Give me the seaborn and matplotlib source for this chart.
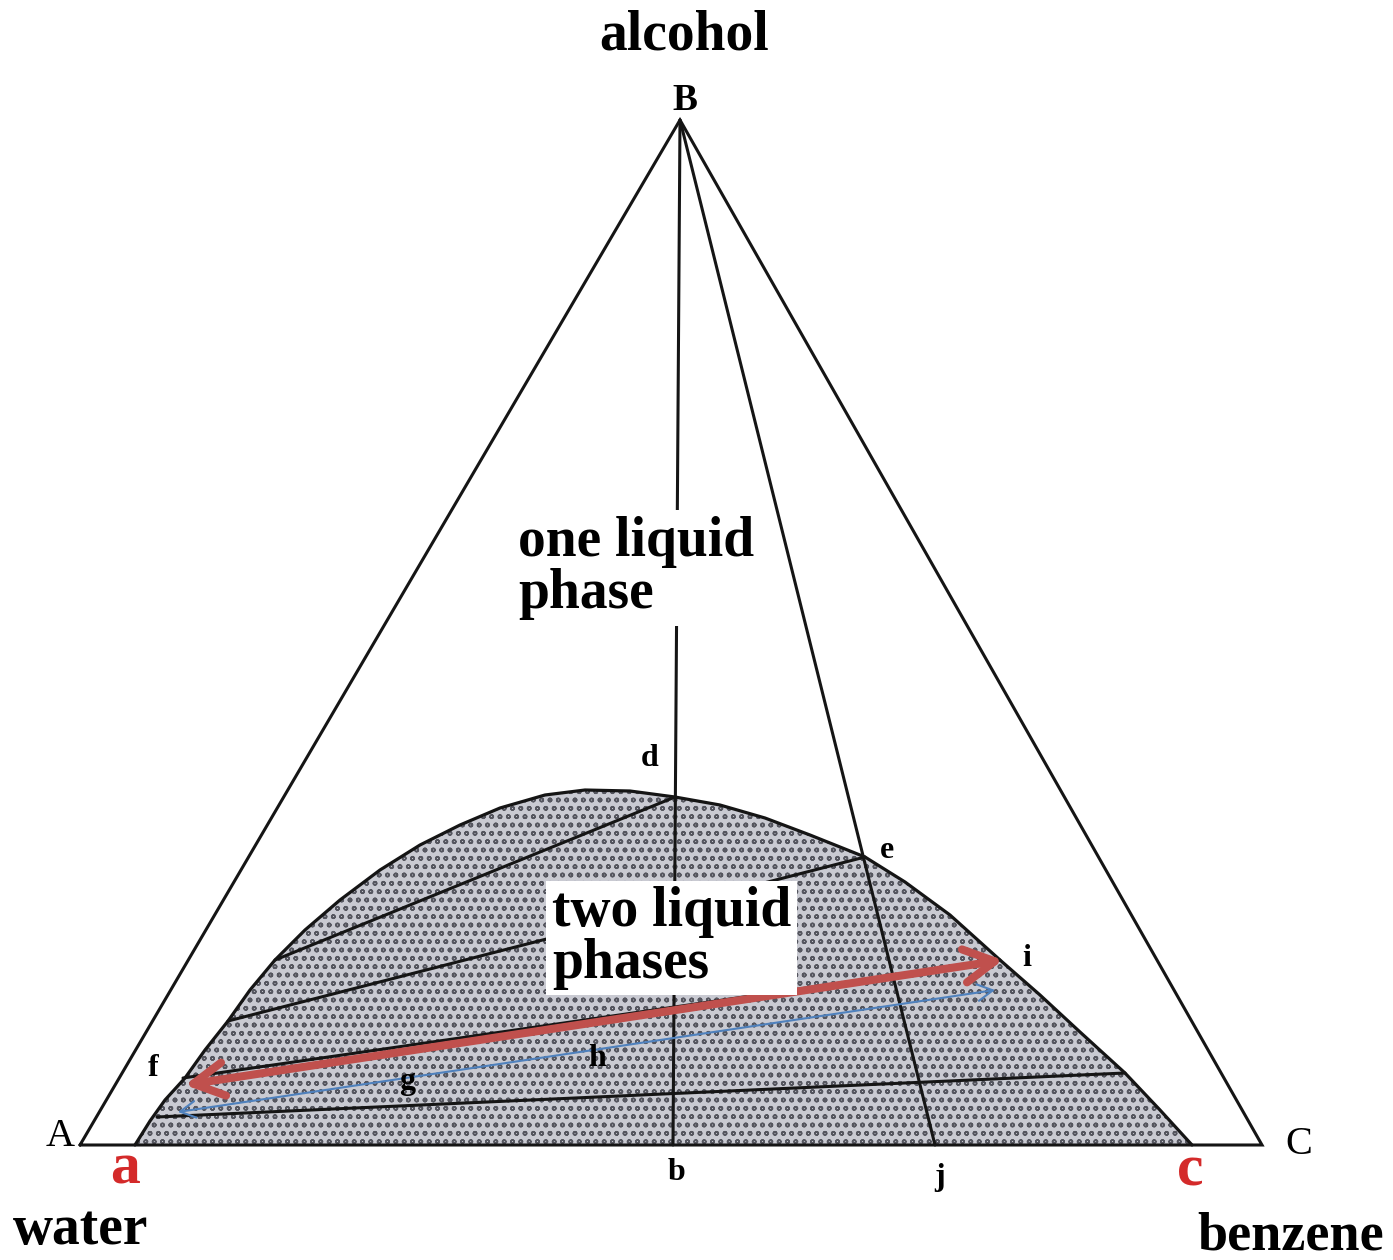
import matplotlib
matplotlib.use("Agg")
import matplotlib.pyplot as plt
import seaborn as sns
import pandas as pd
from matplotlib.patches import Polygon, FancyArrowPatch

# Triangle corners (drawing units, y grows downward)
corner_names = ["A", "B", "C"]
corner_x = [80, 680, 1262]
corner_y = [1145, 120, 1145]

# Binodal (solubility) curve from a to c
binodal_x = [135, 150, 165, 185, 205, 228, 250, 275, 305, 340, 380, 420, 460,
             500, 545, 585, 630, 675, 720, 765, 810, 865, 905, 950, 1000, 1040,
             1080, 1125, 1160, 1192]
binodal_y = [1145, 1121, 1100, 1078, 1050, 1021, 990, 960, 930, 900, 870, 845,
             825, 808, 795, 790, 791, 797, 805, 818, 835, 857, 882, 915, 960,
             995, 1032, 1073, 1110, 1145]

# Tie lines (left end, right end)
tie_x0 = [157, 183, 228, 275]
tie_y0 = [1117, 1078, 1021, 960]
tie_x1 = [1125, 1000, 865, 675]
tie_y1 = [1073, 960, 857, 797]

# Lines from the alcohol corner B to the base points b and j
ray_x1 = [673, 935]
ray_y1 = [1145, 1145]

# Double-headed arrows: red (f -> i) and blue (lower copy)
red_arrow = [(185, 1085), (1003, 960)]
blue_arrow = [(178, 1112), (995, 990)]

# Point labels
point_labels = ["d", "e", "i", "f", "g", "h", "b", "j"]
point_x = [650, 887, 1027, 153, 407, 597, 676, 940]
point_y = [758, 850, 958, 1068, 1082, 1058, 1172, 1178]

sns.set_theme(style="white")
plt.rcParams["font.family"] = ["Liberation Serif", "DejaVu Serif"]
plt.rcParams["text.color"] = "black"
plt.rcParams["hatch.color"] = "#55565f"
plt.rcParams["hatch.linewidth"] = 1.1

fig = plt.figure(figsize=(13.93, 12.6), dpi=100)
ax = fig.add_axes([0, 0, 1, 1])
ax.set_xlim(0, 1393)
ax.set_ylim(1260, 0)
ax.axis("off")

# Two-phase region fill (stippled grey)
poly_pts = list(zip(binodal_x, binodal_y))
region = Polygon(poly_pts, closed=True, facecolor="#c9cad2", edgecolor="#55565f",
                 hatch="oo", linewidth=0, zorder=1)
ax.add_patch(region)

ink = "#151515"

# Binodal curve
curve = pd.DataFrame({"x": binodal_x, "y": binodal_y})
sns.lineplot(data=curve, x="x", y="y", sort=False, color=ink, lw=2.3,
             ax=ax, zorder=3)

# Outer triangle
tri_x = corner_x + [corner_x[0]]
tri_y = corner_y + [corner_y[0]]
ax.plot(tri_x, tri_y, color=ink, lw=2.2, zorder=3, solid_joinstyle="miter")

# Rays from B
for xe, ye in zip(ray_x1, ray_y1):
    ax.plot([corner_x[1], xe], [corner_y[1], ye], color=ink, lw=2.2, zorder=3)

# Tie lines
for x0, y0, x1, y1 in zip(tie_x0, tie_y0, tie_x1, tie_y1):
    ax.plot([x0, x1], [y0, y1], color=ink, lw=2.2, zorder=3)

# Arrows
ax.add_patch(FancyArrowPatch(red_arrow[0], red_arrow[1],
                             arrowstyle="<->,head_length=22,head_width=12",
                             color="#c0504d", lw=5.8, zorder=5, shrinkA=0, shrinkB=0))
ax.add_patch(FancyArrowPatch(blue_arrow[0], blue_arrow[1],
                             arrowstyle="<->,head_length=11,head_width=6",
                             color="#4f81bd", lw=1.5, zorder=5, shrinkA=0, shrinkB=0))

# Region labels on white boxes
ax.text(518, 568, "one liquid\nphase", fontsize=40, fontweight="bold", ha="left",
        va="center", linespacing=0.98, zorder=6,
        bbox=dict(facecolor="white", edgecolor="none", boxstyle="square,pad=0.12"))
ax.text(552, 938, "two liquid\nphases", fontsize=40, fontweight="bold", ha="left",
        va="center", linespacing=0.98, zorder=6,
        bbox=dict(facecolor="white", edgecolor="none", boxstyle="square,pad=0.1"))

# Corner labels
ax.text(685, 100, "B", fontsize=27, fontweight="bold", ha="center", va="center", zorder=6)
ax.text(60, 1137, "A", fontsize=29, ha="center", va="center", zorder=6)
ax.text(1299, 1144, "C", fontsize=29, ha="center", va="center", zorder=6)

# Component names
ax.text(684, 36, "alcohol", fontsize=40, fontweight="bold", ha="center", va="center")
ax.text(81, 1230, "water", fontsize=40, fontweight="bold", ha="center", va="center")
ax.text(1291, 1236, "benzene", fontsize=39, fontweight="bold", ha="center", va="center")

# Red base labels
ax.text(125, 1170, "a", fontsize=43, fontweight="bold", color="#d42a2a", ha="center", va="center")
ax.text(1190, 1172, "c", fontsize=43, fontweight="bold", color="#d42a2a", ha="center", va="center")

# Point labels
for lab, x, y in zip(point_labels, point_x, point_y):
    ax.text(x, y, lab, fontsize=23, fontweight="bold", ha="center", va="center", zorder=6)

fig.savefig("out.png", dpi=100)
